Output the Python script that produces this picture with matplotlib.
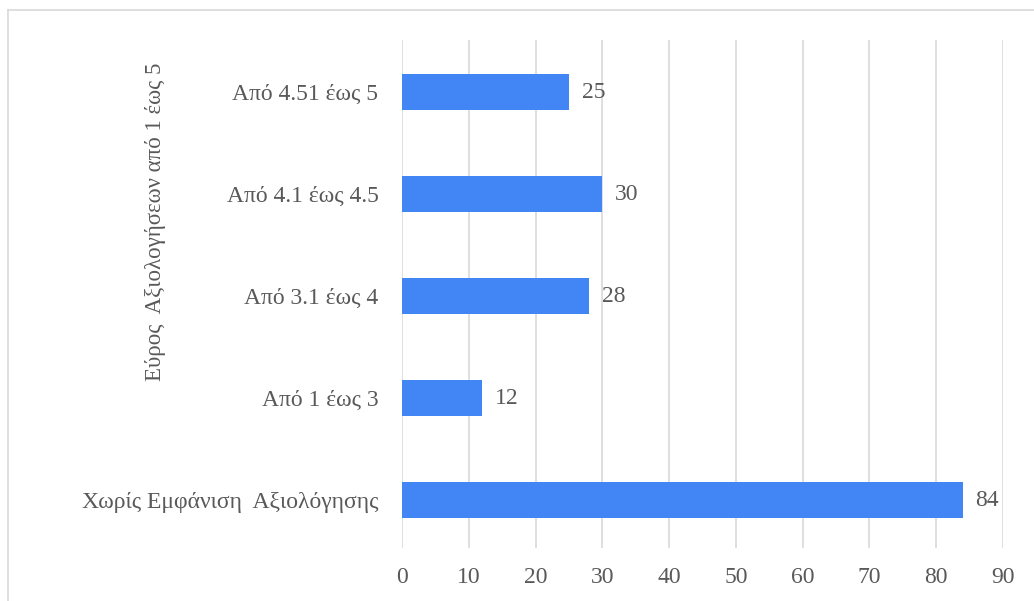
import matplotlib
matplotlib.use("Agg")
import matplotlib.pyplot as plt
from matplotlib.lines import Line2D

plt.rcParams.update({
    "font.family": ["Liberation Serif", "DejaVu Serif"],
    "font.size": 17,
})

CATEGORIES = [
    "Χωρίς Εμφάνιση  Αξιολόγησης",
    "Από 1 έως 3",
    "Από 3.1 έως 4",
    "Από 4.1 έως 4.5",
    "Από 4.51 έως 5",
]
COUNTS = [84, 12, 28, 30, 25]
X_TICKS = list(range(0, 100, 10))

TEXT = "#595959"
GRID = "#d9d9d9"
BAR = "#4285f4"

fig = plt.figure(figsize=(10.34, 6.01), dpi=100)
ax = fig.add_axes([0.3888, 0.0882, 0.5812, 0.8452])

ypos = range(len(CATEGORIES))
bars = ax.barh(ypos, COUNTS, height=0.36, color=BAR, zorder=3)
for rect, v in zip(bars, COUNTS):
    ax.text(rect.get_width() + 1.9, rect.get_y() + rect.get_height() / 2, str(v),
            va="center", ha="left", color=TEXT, fontsize=17)

ax.set_xlim(0, 90)
ax.set_ylim(-0.47, 4.51)
ax.set_xticks(X_TICKS)
ax.set_yticks(list(ypos))
ax.set_yticklabels(CATEGORIES)
ax.tick_params(axis="both", length=0, colors=TEXT, labelsize=17)
ax.tick_params(axis="y", pad=17)
ax.tick_params(axis="x", pad=14)
ax.grid(axis="x", color=GRID, linewidth=1.2, zorder=0)
for s in ax.spines.values():
    s.set_visible(False)

fig.text(155 / 1034, 1 - 222 / 601, "Εύρος  Αξιολογήσεων από 1 έως 5",
         rotation=90, ha="center", va="center", color=TEXT, fontsize=16.5)

# outer frame (left and top edges)
fig.add_artist(Line2D([8 / 1034, 8 / 1034], [0, 1 - 10 / 601],
                      transform=fig.transFigure, color=GRID, linewidth=1.2))
fig.add_artist(Line2D([8 / 1034, 1], [1 - 10 / 601, 1 - 10 / 601],
                      transform=fig.transFigure, color=GRID, linewidth=1.2))

fig.savefig("out.png", dpi=100)
